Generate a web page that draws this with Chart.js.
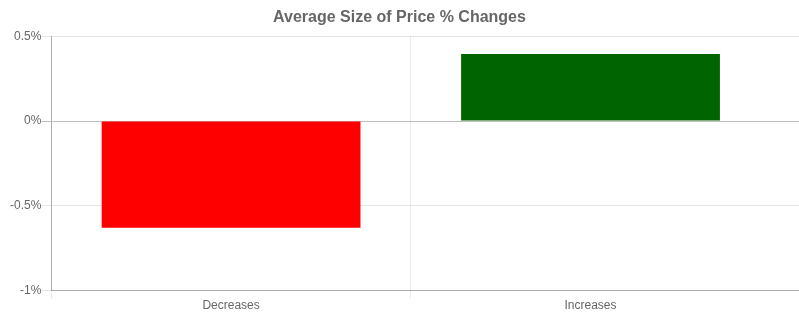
<!DOCTYPE html>
<html>
<head>
<meta charset="utf-8">
<script src="https://cdn.jsdelivr.net/npm/chart.js@4/dist/chart.umd.min.js"></script>
<style>
  html, body { margin: 0; padding: 0; background: #fff; }
  #wrap { width: 799px; height: 318px; }
</style>
</head>
<body>
<div id="wrap"><canvas id="bar-chart"></canvas></div>
<script>
// values, in percent
const categories = ["Decreases", "Increases"];
const avgChange = [-0.63, 0.395];
const barColors = ["#ff0000", "#006400"];
const yTicks = [-1, -0.5, 0, 0.5];

Chart.defaults.font.family = "'Helvetica Neue', Helvetica, Arial, sans-serif";
Chart.defaults.color = "#666";

// x grid: light lines between categories, nothing after the last one
const xGridColor = (c) => (c.tick ? "rgba(0,0,0,0.08)" : "rgba(0,0,0,0)");

const ctx = document.getElementById("bar-chart").getContext("2d");
const chart = new Chart(ctx, {
  type: "bar",
  data: {
    labels: categories,
    datasets: [
      {
        label: "Average change",
        data: avgChange,
        backgroundColor: barColors,
        borderWidth: 0,
      },
    ],
  },
  options: {
    responsive: true,
    maintainAspectRatio: false,
    animation: false,
    layout: { padding: { left: 0, right: 0, top: 0, bottom: 5 } },
    plugins: {
      legend: { display: false },
      tooltip: { enabled: false },
      title: {
        display: true,
        text: "Average Size of Price % Changes",
        color: "#666",
        font: { size: 16, weight: "bold" },
        padding: { top: 8, bottom: 9 },
      },
    },
    scales: {
      x: {
        // the old chart leaves some room after the last category
        afterBuildTicks: (axis) => {
          axis._valueRange = 2.08;
        },
        grid: {
          color: xGridColor,
          tickColor: xGridColor,
          tickLength: 8,
          offset: true,
        },
        border: { color: "rgba(0,0,0,0.25)" },
        ticks: { font: { size: 12 }, padding: 0 },
      },
      y: {
        min: yTicks[0],
        max: yTicks[yTicks.length - 1],
        afterBuildTicks: (axis) => {
          axis.ticks = yTicks.map((v) => ({ value: v }));
        },
        afterFit: (axis) => {
          axis.width += 10;
        },
        grid: {
          color: (c) => (c.tick && c.tick.value === 0 ? "rgba(0,0,0,0.25)" : "rgba(0,0,0,0.1)"),
          tickLength: 10,
        },
        border: { color: "rgba(0,0,0,0.25)" },
        ticks: {
          font: { size: 12 },
          padding: 0,
          callback: (v) => v + "%",
        },
      },
    },
  },
});
</script>
</body>
</html>
